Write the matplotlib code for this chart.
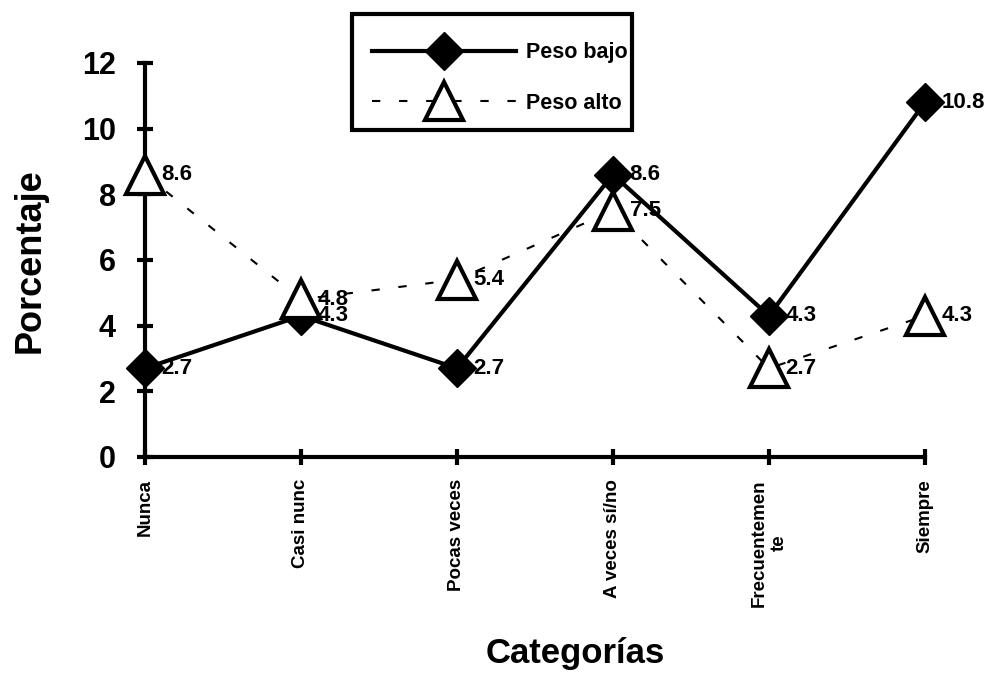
import matplotlib
matplotlib.use("Agg")
import matplotlib.pyplot as plt
from matplotlib.patches import Rectangle

plt.rcParams["font.family"] = ["Liberation Sans", "DejaVu Sans"]
plt.rcParams["font.weight"] = "bold"

categorias = ["Nunca", "Casi nunc", "Pocas veces", "A veces sí/no", "Frecuentemen\nte", "Siempre"]
peso_bajo = [2.7, 4.3, 2.7, 8.6, 4.3, 10.8]
peso_alto = [8.6, 4.8, 5.4, 7.5, 2.7, 4.3]
y_ticks = [0, 2, 4, 6, 8, 10, 12]

fig = plt.figure(figsize=(9.91, 6.74), dpi=100)
ax = fig.add_axes([0.1463, 0.3220, 0.7871, 0.5846])

x = list(range(len(categorias)))
ax.plot(x, peso_bajo, color="black", lw=3, marker="D", markersize=19,
        markerfacecolor="black", markeredgecolor="black", label="Peso bajo",
        clip_on=False, zorder=3)
ax.plot(x, peso_alto, color="black", lw=1.5, ls=(0, (4, 9)), marker="^",
        markersize=28, markerfacecolor="white", markeredgecolor="black",
        markeredgewidth=3, label="Peso alto", clip_on=False, zorder=4)

# etiquetas de datos a la derecha de cada marcador
for xi, v in zip(x, peso_bajo):
    ax.annotate(f"{v:.1f}", (xi, v), xytext=(12, 0), textcoords="offset points",
                ha="left", va="center", fontsize=16, fontweight="bold", zorder=5)
for xi, v in zip(x, peso_alto):
    ax.annotate(f"{v:.1f}", (xi, v), xytext=(12, 0), textcoords="offset points",
                ha="left", va="center", fontsize=16, fontweight="bold", zorder=5)

ax.set_xlim(0, len(categorias) - 1)
ax.set_ylim(0, 12)
ax.set_yticks(y_ticks)
ax.set_yticklabels([str(t) for t in y_ticks], fontsize=22, fontweight="bold")
ax.set_xticks(x)
ax.set_xticklabels(categorias, rotation=90, fontsize=13.5, fontweight="bold",
                   multialignment="center")

for side in ["top", "right"]:
    ax.spines[side].set_visible(False)
for side in ["left", "bottom"]:
    ax.spines[side].set_linewidth(3)
ax.tick_params(axis="both", direction="inout", length=12, width=3)
ax.tick_params(axis="y", pad=15)
ax.tick_params(axis="x", pad=10)

fig.text(0.030, 0.614, "Porcentaje", rotation=90, ha="center", va="center",
         fontsize=26, fontweight="bold")
fig.text(0.580, 0.030, "Categorías", ha="center", va="center",
         fontsize=25, fontweight="bold")

# leyenda sin marco propio; el recuadro se dibuja aparte
leg = ax.legend(loc="center left", bbox_to_anchor=(0.3754, 0.8843),
                bbox_transform=fig.transFigure, fontsize=15.5, handlelength=6.7,
                handletextpad=0.45, labelspacing=1.35, borderpad=0,
                borderaxespad=0, frameon=False)
fig.patches.append(Rectangle((0.3552, 0.8071), 0.2826, 0.1721,
                             transform=fig.transFigure, fill=False,
                             edgecolor="black", linewidth=3, zorder=1))

fig.savefig("out.png", dpi=100)
